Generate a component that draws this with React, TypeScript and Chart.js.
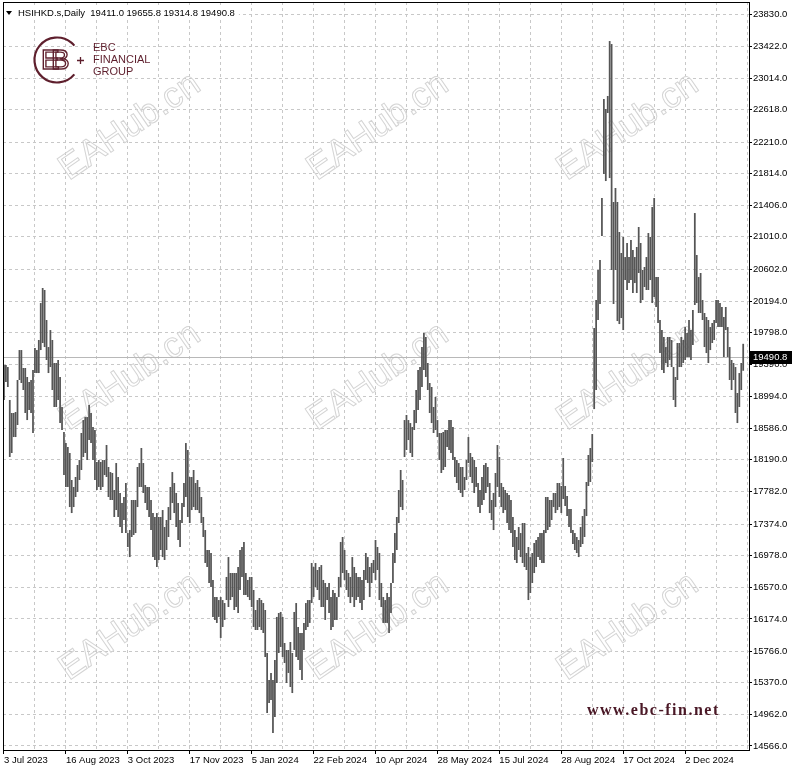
import React, { useEffect, useRef } from 'react';
import { Chart, registerables } from 'chart.js';

Chart.register(...registerables);

// ---- data ----
const symbolTitle = 'HSIHKD.s,Daily';
const lastBarOHLC = [19411.0, 19655.8, 19314.8, 19490.8];
const dateLabels = ['3 Jul 2023', '16 Aug 2023', '3 Oct 2023', '17 Nov 2023', '5 Jan 2024', '22 Feb 2024', '10 Apr 2024', '28 May 2024', '15 Jul 2024', '28 Aug 2024', '17 Oct 2024', '2 Dec 2024'];
const barsPerDateLabel = 32;
const barsPerGridLine = 16;
const priceTicks = [23830.0, 23422.0, 23014.0, 22618.0, 22210.0, 21814.0, 21406.0, 21010.0, 20602.0, 20194.0, 19798.0, 19390.0, 18994.0, 18586.0, 18190.0, 17782.0, 17374.0, 16978.0, 16570.0, 16174.0, 15766.0, 15370.0, 14962.0, 14566.0];

const highs = [
  19388,19388,19362,18945,18780,18780,18793,19198,19577,19577,19350,19350,19236,19172,19198,19324,19603,19577,19704,20172,
  20362,20337,19957,19615,19830,19704,19413,19413,19451,19236,18856,18540,18400,18350,18274,17932,17844,17970,18122,18185,
  18527,18691,18729,18729,18881,18780,18603,18565,18160,18185,18160,18185,18185,18375,18097,18033,18021,17806,18147,17970,
  17768,17641,17717,17894,17261,17299,17679,17679,17679,18097,18147,18337,18147,17869,17844,17844,17679,17514,17464,17514,
  17464,17464,17552,17337,17426,17590,17844,18033,17894,17768,17641,17426,17641,17894,18400,18312,17970,17970,18059,17894,
  17932,17844,17717,17464,17299,17046,17046,17008,16667,16451,16451,16413,16451,16413,16375,16705,16957,16755,16755,16755,
  16755,16831,17046,17084,17148,16755,16667,16705,16705,16540,16287,16413,16439,16413,16375,16287,15743,15401,15490,15401,
  15654,16199,16249,16262,16199,15869,15781,15781,15882,15743,16262,16375,16072,15996,15996,16123,16375,16413,16413,16882,
  16831,16882,16793,16831,16856,16667,16629,16578,16629,16451,16540,16502,16451,16705,17148,17211,17046,16793,16755,16705,
  16957,16831,16755,16705,16705,16667,16793,17008,16957,16831,16882,16920,17173,17084,17008,16629,16451,16413,16502,16451,
  16629,17008,17261,17464,17806,18059,17932,18691,18755,18691,18653,18603,18818,19071,19324,19362,19615,19792,19742,19413,
  19160,19109,18856,18983,18691,18527,18527,18540,18565,18565,18691,18691,18603,18223,18185,18147,18097,18097,17970,18185,
  18476,18274,18223,18185,18097,17894,17806,17970,18122,18147,18097,17894,17679,17768,18021,18375,18223,17894,17844,17806,
  17768,17742,17679,17464,17299,17211,17337,17261,17388,17388,17008,17084,16957,17008,17135,17173,17211,17261,17261,17299,
  17717,17717,17679,17679,17768,17768,17894,17894,17856,18211,17856,17730,17565,17565,17299,17261,17211,17173,17337,17476,
  17565,17907,18249,18337,18514,19856,20210,20590,20716,21501,22754,22628,22792,23488,23450,21451,21628,21451,21071,20805,
  21008,20754,20932,20754,20970,20843,20754,20881,21134,20932,20590,20628,20754,21058,21008,21387,21501,20501,20501,19957,
  19830,19742,19615,19742,19742,19704,19362,19236,19666,19666,19742,19704,19868,19792,19957,19830,20084,21311,20780,20501,
  20552,20210,20046,19995,19957,19868,19919,19957,20210,20210,20172,20122,19995,20122,19868,19615,19451,19413,19362,19033,
  19286,19413,19655.8,
];

const lows = [
  18945,19172,19109,18223,18274,18476,18476,18628,19198,19160,19071,18780,18691,18818,18780,18527,19286,19286,19286,19577,
  19666,19615,19451,19286,19362,19071,18856,18856,18945,18653,18565,17995,17844,17844,17590,17514,17590,17717,17780,17932,
  18059,18223,18274,18185,18438,18400,18185,17932,17806,17844,17806,17844,17995,17970,17717,17679,17679,17464,17552,17464,
  17337,17261,17426,17261,17084,16957,17211,17236,17261,17590,17844,17844,17768,17641,17552,17464,17299,16957,16920,16831,
  16920,17046,16957,16920,17046,17211,17426,17641,17514,17337,17173,17084,17388,17590,17717,17464,17388,17552,17590,17552,
  17552,17514,17388,17211,16882,16831,16629,16578,16199,16161,16123,16199,15933,16072,16161,16413,16325,16413,16451,16287,
  16325,16249,16540,16705,16477,16477,16451,16413,16325,16072,16034,16034,16072,16034,15996,15692,14983,15110,15148,14730,
  14933,15363,15743,15819,15692,15616,15363,15490,15312,15236,15781,15692,15654,15527,15401,15781,16034,16072,16123,16375,
  16451,16578,16540,16413,16325,16325,16161,16413,16249,16034,16072,16161,16161,16451,16578,16755,16667,16540,16451,16375,
  16451,16325,16413,16451,16375,16287,16413,16667,16629,16451,16629,16755,16667,16793,16413,16325,16123,16123,16123,15996,
  16249,16629,16882,17046,17388,17590,17552,18223,18312,18438,18274,18223,18565,18653,18818,18945,19109,19324,19236,19071,
  18780,18653,18527,18565,18476,18185,18021,18059,18097,18350,18312,18274,18185,17970,17894,17806,17768,17717,17806,17932,
  18147,17970,17894,17768,17844,17590,17514,17616,17679,17768,17844,17514,17426,17299,17590,17844,17717,17590,17514,17552,
  17388,17299,17261,17084,16920,16882,17046,16957,16882,16831,16793,16413,16502,16629,16755,16831,16957,16920,16882,16882,
  17261,17299,17337,17426,17590,17514,17552,17590,17514,17692,17603,17476,17337,17261,17122,17046,17008,16957,17084,17122,
  17211,17476,17856,17907,18160,18830,19071,19957,20160,21020,21805,21716,22577,21754,20590,20160,20590,19944,19906,19982,
  19830,20463,20337,20425,20463,20299,20425,20299,20552,20172,20210,20375,20337,20337,20463,20172,20248,20122,19919,19539,
  19324,19286,19413,19362,19451,19362,18945,18856,19198,19362,19362,19413,19451,19489,19489,19451,19641,20147,20172,20046,
  20046,19957,19615,19539,19413,19577,19666,19704,19919,19868,19868,19868,19489,19830,19489,19198,19071,19198,18780,18653,
  18856,19071,19314.8,
];

const watermarkText = 'EAHub.cn';
const siteText = 'www.ebc-fin.net';
const logoLines = ['EBC', 'FINANCIAL', 'GROUP'];

// ---- styling ----
const FONT = '"Liberation Sans", Arial, sans-serif';
const MAROON = '#5e1f2d';
const GRID = '#c8c8c8';

export default function App() {
  const ref = useRef<HTMLCanvasElement>(null);

  useEffect(() => {
    const canvas = ref.current;
    if (!canvas) return;
    const lastClose = lastBarOHLC[3];
    const lastGridTick = Math.ceil(highs.length / barsPerGridLine) * barsPerGridLine;

    const decor = {
      id: 'decor',
      beforeDraw(chart: any) {
        const { ctx } = chart;
        ctx.save();
        ctx.fillStyle = '#ffffff';
        ctx.fillRect(0, 0, chart.width, chart.height);
        ctx.restore();
      },
      beforeDatasetsDraw(chart: any) {
        const { ctx, chartArea: a, scales } = chart;
        ctx.save();
        ctx.beginPath();
        ctx.rect(a.left, a.top, a.right - a.left, a.bottom - a.top);
        ctx.clip();

        // watermarks
        ctx.font = `36px ${FONT}`;
        ctx.strokeStyle = '#d4d4d4';
        ctx.lineWidth = 1;
        ctx.textAlign = 'center';
        ctx.textBaseline = 'middle';
        for (const cy of [127, 377, 627]) {
          for (const cx of [130, 378, 628]) {
            ctx.save();
            ctx.translate(cx, cy);
            ctx.rotate((-34.5 * Math.PI) / 180);
            ctx.strokeText(watermarkText, 0, 0);
            ctx.restore();
          }
        }

        // last price line
        const py = Math.round(scales.y.getPixelForValue(lastClose)) + 0.5;
        ctx.strokeStyle = '#b8b8b8';
        ctx.lineWidth = 1;
        ctx.beginPath();
        ctx.moveTo(a.left, py);
        ctx.lineTo(a.right, py);
        ctx.stroke();

        // logo
        ctx.strokeStyle = MAROON;
        ctx.fillStyle = MAROON;
        ctx.lineWidth = 2.2;
        ctx.beginPath();
        ctx.arc(57, 60, 22.5, 0.22 * Math.PI, 1.78 * Math.PI);
        ctx.stroke();
        ctx.lineWidth = 1.4;
        ctx.font = `28px ${FONT}`;
        ctx.textAlign = 'left';
        ctx.textBaseline = 'middle';
        ctx.strokeText('E', 41, 61);
        ctx.strokeText('B', 51, 61);
        ctx.lineWidth = 1.3;
        ctx.beginPath();
        ctx.moveTo(77, 60.5);
        ctx.lineTo(84, 60.5);
        ctx.moveTo(80.5, 57);
        ctx.lineTo(80.5, 64);
        ctx.stroke();
        ctx.font = `11px ${FONT}`;
        logoLines.forEach((t, k) => ctx.fillText(t, 93, 48 + k * 12));
        ctx.restore();
      },
      afterDraw(chart: any) {
        const { ctx, chartArea: a, scales } = chart;
        ctx.save();
        // frame
        ctx.strokeStyle = '#000';
        ctx.lineWidth = 1;
        ctx.strokeRect(a.left + 0.5, a.top + 0.5, a.right - a.left, a.bottom - a.top);

        // title
        const title = `${symbolTitle}  ${lastBarOHLC.map((v) => v.toFixed(1)).join(' ')}`;
        ctx.font = `9.5px ${FONT}`;
        const tw = ctx.measureText(title).width;
        ctx.fillStyle = '#fff';
        ctx.fillRect(a.left + 1, 7, tw + 18, 13);
        ctx.fillStyle = '#000';
        ctx.beginPath();
        ctx.moveTo(6, 11);
        ctx.lineTo(12, 11);
        ctx.lineTo(9, 15);
        ctx.closePath();
        ctx.fill();
        ctx.textAlign = 'left';
        ctx.textBaseline = 'middle';
        ctx.fillText(title, 18, 13.5);

        // last price label
        const py = Math.round(scales.y.getPixelForValue(lastClose));
        ctx.fillStyle = '#000';
        ctx.fillRect(a.right + 1, py - 6, 42, 13);
        ctx.fillStyle = '#fff';
        ctx.fillText(lastClose.toFixed(1), a.right + 4, py + 0.5);

        // site text
        ctx.fillStyle = '#4a1826';
        ctx.font = `bold 16px "Liberation Serif", "Times New Roman", serif`;
        (ctx as any).letterSpacing = '1.5px';
        ctx.textBaseline = 'alphabetic';
        ctx.fillText(siteText, 587, 715);
        ctx.restore();
      },
    };

    const chart = new Chart(canvas, {
      type: 'bar',
      data: {
        datasets: [
          {
            data: highs.map((h, i) => ({ x: i, y: [lows[i], h] })) as any,
            backgroundColor: '#555555',
            borderWidth: 0,
            barThickness: 1.75,
            inflateAmount: 0,
          } as any,
        ],
      },
      options: {
        animation: false,
        responsive: false,
        devicePixelRatio: 1,
        layout: { padding: { left: 3, top: 2, right: 0, bottom: 0 } },
        plugins: { legend: { display: false }, tooltip: { enabled: false } },
        scales: {
          x: {
            type: 'linear',
            min: -0.5,
            max: 385,
            offset: false,
            grid: {
              offset: false,
              color: GRID,
              lineWidth: 1,
              drawTicks: true,
              tickLength: 4,
              tickColor: (c: any) =>
                c.tick && c.tick.value % barsPerDateLabel === 0 && c.tick.value / barsPerDateLabel < dateLabels.length
                  ? '#000'
                  : 'rgba(0,0,0,0)',
            },
            border: { display: false, dash: [3, 3] },
            afterBuildTicks: (s: any) => {
              const t = [];
              for (let v = 0; v <= lastGridTick; v += barsPerGridLine) t.push({ value: v });
              s.ticks = t;
            },
            afterFit: (s: any) => {
              s.height = 20;
              s.paddingLeft = 0;
              s.paddingRight = 0;
            },
            ticks: {
              autoSkip: false,
              maxRotation: 0,
              minRotation: 0,
              align: 'start',
              padding: 1,
              color: '#000',
              font: { family: FONT, size: 9.5 },
              callback: (v: any) => {
                const k = Number(v) / barsPerDateLabel;
                return Number.isInteger(k) && k < dateLabels.length ? dateLabels[k] : '';
              },
            },
          },
          y: {
            type: 'linear',
            position: 'right',
            min: 14515,
            max: 23982,
            beginAtZero: false,
            grid: {
              color: GRID,
              lineWidth: 1,
              drawTicks: true,
              tickLength: 3,
              tickColor: '#000',
            },
            border: { display: false, dash: [3, 3] },
            afterBuildTicks: (s: any) => {
              s.ticks = [...priceTicks].sort((p, q) => p - q).map((v) => ({ value: v }));
            },
            afterFit: (s: any) => {
              s.width = 51;
              s.paddingTop = 0;
              s.paddingBottom = 0;
            },
            ticks: {
              padding: 1,
              color: '#000',
              font: { family: FONT, size: 9.5 },
              callback: (v: any) => Number(v).toFixed(1),
            },
          },
        },
      } as any,
      plugins: [decor],
    });

    return () => chart.destroy();
  }, []);

  return (
    <div style={{ position: 'fixed', left: 0, top: 0, width: 800, height: 770, background: '#fff' }}>
      <canvas ref={ref} width={800} height={770} style={{ display: 'block', width: 800, height: 770 }} />
    </div>
  );
}
